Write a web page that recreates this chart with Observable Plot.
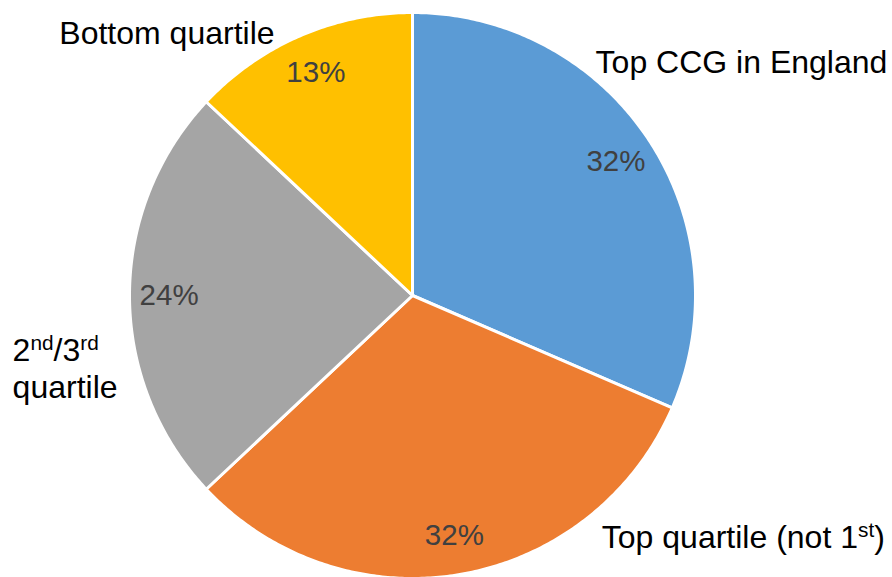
<!DOCTYPE html>
<html>
<head>
<meta charset="utf-8">
<script src="https://cdn.jsdelivr.net/npm/d3@7"></script>
<script src="https://cdn.jsdelivr.net/npm/@observablehq/plot@0.6"></script>
<style>
  html, body { margin: 0; padding: 0; background: white; }
  #chart svg { display: block; }
</style>
</head>
<body>
<div id="chart"></div>
<script>
// ---- data ----
const categories = ["Top CCG in England", "Top quartile (not 1st)", "2nd/3rd quartile", "Bottom quartile"];
const displayLabels = ["Top CCG in England", "Top quartile (not 1^{st})", "2^{nd}/3^{rd}\nquartile", "Bottom quartile"];
const shares = [31.5, 31.5, 24, 13];
const pctLabels = ["32%", "32%", "24%", "13%"];
const colors = ["#5B9BD5", "#ED7D31", "#A5A5A5", "#FFC000"];

// ---- layout (unit-circle coordinates for category labels) ----
const labelX = [0.647, 0.669, -1.413, -1.248];
const labelY = [0.827, -0.852, -0.256, 0.929];
const pctRadius = 0.86;

const arcs = d3.pie().sort(null).value(d => d)(shares);

// polygon outlines of slices on a unit circle
const slicePts = [];
arcs.forEach((a, k) => {
  slicePts.push({x: 0, y: 0, k});
  const n = Math.max(8, Math.ceil((a.endAngle - a.startAngle) / 0.01));
  for (let j = 0; j <= n; j++) {
    const t = a.startAngle + (a.endAngle - a.startAngle) * j / n;
    slicePts.push({x: Math.sin(t), y: Math.cos(t), k});
  }
});

const mid = a => (a.startAngle + a.endAngle) / 2;

const plot = Plot.plot({
  width: 892,
  height: 577,
  x: {type: "linear", domain: [-1, 1], range: [129, 695], axis: null},
  y: {type: "linear", domain: [-1, 1], range: [578, 12], axis: null},
  color: {domain: categories, range: colors},
  style: {fontFamily: "'Liberation Sans', Arial, Helvetica, sans-serif", background: "white"},
  marks: [
    Plot.line(slicePts, {
      x: "x", y: "y", z: "k",
      fill: d => categories[d.k],
      stroke: "white", strokeWidth: 3, strokeLinejoin: "round",
      curve: "linear-closed"
    }),
    Plot.text(arcs, {
      x: a => pctRadius * Math.sin(mid(a)),
      y: a => pctRadius * Math.cos(mid(a)),
      text: (a, i) => pctLabels[i],
      fill: "#404040", fontSize: 29.5
    }),
    Plot.text(d3.range(categories.length), {
      x: i => labelX[i],
      y: i => labelY[i],
      text: i => displayLabels[i],
      textAnchor: "start", fontSize: 32, lineHeight: 1.15,
      fill: "black"
    })
  ]
});

// render ^{...} as superscript tspans (text stays real text)
function applySup(root) {
  const leaves = [...root.querySelectorAll("text, tspan")].filter(el =>
    el.childNodes.length === 1 && el.firstChild.nodeType === 3 && el.textContent.includes("^{"));
  leaves.forEach(el => {
    const parts = el.textContent.split(/\^\{([^}]*)\}/);
    el.textContent = "";
    parts.forEach((p, idx) => {
      if (!p) return;
      if (idx % 2 === 1) {
        const s = document.createElementNS("http://www.w3.org/2000/svg", "tspan");
        s.setAttribute("baseline-shift", "super");
        s.setAttribute("font-size", "0.65em");
        s.textContent = p;
        el.appendChild(s);
      } else {
        el.appendChild(document.createTextNode(p));
      }
    });
  });
}
applySup(plot);
document.getElementById("chart").appendChild(plot);
</script>
</body>
</html>
